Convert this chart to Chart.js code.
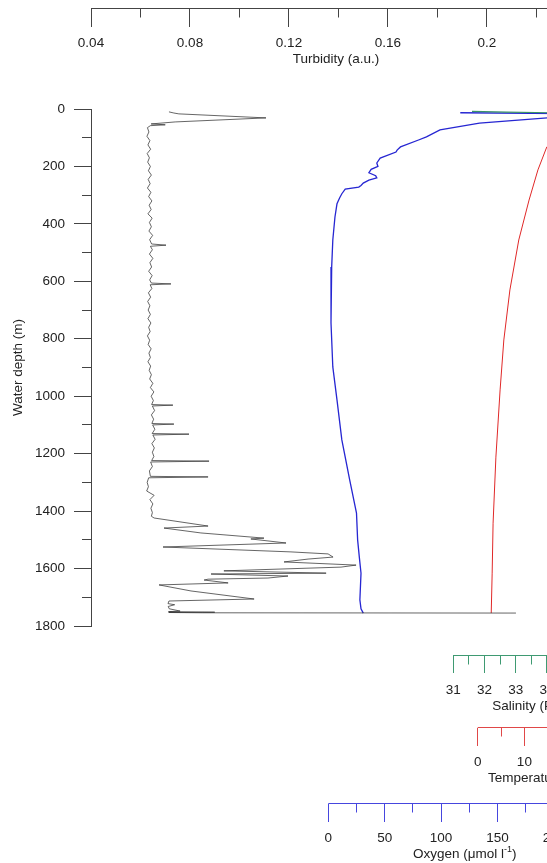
<!DOCTYPE html>
<html>
<head>
<meta charset="utf-8">
<title>Water column profile</title>
<script src="https://cdn.jsdelivr.net/npm/chart.js@4"></script>
<style>
  html, body { margin: 0; padding: 0; overflow: hidden; background: #fff; }
  #wrap { width: 547px; height: 863px; overflow: hidden; }
</style>
</head>
<body>
<div id="wrap"><canvas id="profile" width="640" height="863"></canvas></div>
<script>
// turbidity profile (a.u.) vs depth (m)
const turbDepth = [
  10, 14, 17, 31, 45, 52, 55, 58, 65,
  80, 95, 110, 125, 140, 155, 170, 185, 200, 215,
  230, 245, 260, 275, 290, 305, 320, 335, 350, 365,
  380, 395, 410, 425, 440, 455, 470, 474, 478, 490,
  505, 520, 535, 550, 565, 580, 595, 606, 609, 612,
  625, 640, 655, 670, 685, 700, 715, 730, 745, 760,
  775, 790, 805, 820, 835, 850, 865, 880, 895, 910,
  925, 940, 955, 970, 985, 1000, 1015, 1029, 1031, 1034,
  1050, 1065, 1080, 1095, 1097, 1100, 1115, 1130, 1132, 1135,
  1150, 1165, 1180, 1195, 1210, 1224, 1226, 1229, 1245, 1260,
  1279, 1281, 1284, 1300, 1315, 1330, 1345, 1360, 1375, 1390,
  1405, 1418, 1424, 1452, 1459, 1476, 1494, 1497, 1511, 1525,
  1542, 1549, 1560, 1567, 1577, 1588, 1595, 1608, 1616, 1619,
  1626, 1633, 1637, 1640, 1650, 1657, 1678, 1706, 1713, 1722,
  1726, 1732, 1740, 1748, 1750, 1752, 1753, 1754, 1755
];
const turbValue = [
  0.0715, 0.0735, 0.0755, 0.1107, 0.0740, 0.0643, 0.0700, 0.0640, 0.0628,
  0.0634, 0.0626, 0.0638, 0.0630, 0.0641, 0.0627, 0.0636, 0.0629, 0.0640, 0.0632,
  0.0644, 0.0631, 0.0639, 0.0628, 0.0642, 0.0633, 0.0646, 0.0635, 0.0643, 0.0630,
  0.0647, 0.0636, 0.0644, 0.0634, 0.0649, 0.0637, 0.0645, 0.0703, 0.0640, 0.0648,
  0.0636, 0.0650, 0.0638, 0.0645, 0.0633, 0.0647, 0.0637, 0.0644, 0.0723, 0.0639,
  0.0646, 0.0632, 0.0641, 0.0629, 0.0638, 0.0631, 0.0640, 0.0630, 0.0642, 0.0633,
  0.0639, 0.0628, 0.0637, 0.0631, 0.0643, 0.0634, 0.0640, 0.0630, 0.0641, 0.0635,
  0.0644, 0.0637, 0.0650, 0.0640, 0.0654, 0.0643, 0.0652, 0.0645, 0.0731, 0.0648,
  0.0657, 0.0644, 0.0653, 0.0646, 0.0735, 0.0649, 0.0658, 0.0647, 0.0796, 0.0650,
  0.0659, 0.0646, 0.0656, 0.0648, 0.0654, 0.0645, 0.0877, 0.0641, 0.0648, 0.0636,
  0.0640, 0.0873, 0.0633, 0.0627, 0.0632, 0.0625, 0.0655, 0.0638, 0.0650, 0.0642,
  0.0648, 0.0644, 0.0655, 0.0873, 0.0695, 0.0844, 0.1099, 0.1046, 0.1188, 0.0691,
  0.1208, 0.1358, 0.1378, 0.1277, 0.1180, 0.1471, 0.1410, 0.0937, 0.1350, 0.0885,
  0.1196, 0.1115, 0.0873, 0.0857, 0.0954, 0.0675, 0.0804, 0.1059, 0.0715, 0.0711,
  0.0738, 0.0712, 0.0716, 0.0760, 0.0713, 0.0900, 0.0714, 0.0850, 0.2117
];

// salinity (PSU)
const salDepth = [8, 11, 13, 20, 40, 70, 100, 200, 400, 700, 1000, 1400, 1755];
const salValue = [31.6, 32.7, 34.1, 34.2, 34.3, 34.6, 34.8, 34.95, 35.0, 34.98, 34.95, 34.92, 34.9];

// temperature (deg C)
const tempDepth = [8, 30, 60, 80, 100, 132, 212, 317, 456, 630, 804, 978, 1212, 1442, 1616, 1755];
const tempValue = [28.8, 28.5, 27.0, 23.0, 19.5, 14.8, 12.9, 11.0, 8.8, 6.9, 5.6, 4.8, 3.9, 3.3, 3.1, 2.9];

// oxygen (umol/l)
const oxyDepth = [
  13, 16, 25, 31, 49, 73, 97, 108, 132, 143,
  150, 171, 188, 200, 210, 222, 232, 240, 248, 258,
  266, 272, 279, 295, 310, 330, 376, 456, 550, 630,
  745, 898, 1013, 1152, 1292, 1407, 1500, 1560, 1616, 1709,
  1740, 1755
];
const oxyValue = [
  117, 212, 214, 194, 134, 99, 87, 80, 64, 61,
  60, 46, 43, 44, 38, 36, 42, 43, 36, 31,
  29, 27, 15, 12, 10, 7.7, 5.9, 4.0, 3.0, 2.4,
  2.4, 4.0, 7.7, 12, 19, 25, 26, 27.5, 29, 28,
  29, 31
];

const pairs = (xs, ds) => xs.map((v, i) => ({ x: v, y: ds[i] }));

const GREEN = '#3f9a72';
const RED = '#e04848';
const BLUE = '#4646de';
const INK = '#222';

// extra drawing for the offset axes: axis line, minor ticks, title
const axisExtras = {
  turb: { from: 0.04, step: 0.04, color: '#444', title: 'Turbidity (a.u.)', titleAt: 0.139, align: 'center' },
  sal:  { from: 31, step: 1, color: GREEN, title: 'Salinity (PSU)', titleAt: 32.25, align: 'left' },
  temp: { from: 0, step: 10, color: RED, title: 'Temperature (°C)', titleAt: 2.2, align: 'left' },
  oxy:  { from: 0, step: 50, color: BLUE, title: 'Oxygen (μmol l', sup: '-1', tail: ')', titleAt: 121, align: 'center' }
};

const alignPx = p => Math.round(p - 0.5) + 0.5;

const axisDecor = {
  id: 'axisDecor',
  afterDraw(chart) {
    const ctx = chart.ctx;
    const ys = chart.scales.y;
    ctx.save();
    ctx.lineWidth = 1;
    // minor ticks of depth axis
    ctx.strokeStyle = '#444';
    ctx.beginPath();
    for (let d = 100; d < 1800; d += 200) {
      const py = alignPx(ys.getPixelForValue(d));
      ctx.moveTo(ys.right - 9, py);
      ctx.lineTo(ys.right, py);
    }
    ctx.stroke();

    for (const id of Object.keys(axisExtras)) {
      const s = chart.scales[id];
      const a = axisExtras[id];
      const py = alignPx(ys.getPixelForValue(s.options.position.y));
      ctx.strokeStyle = a.color;
      ctx.beginPath();
      ctx.moveTo(s.getPixelForValue(a.from), py);
      ctx.lineTo(s.getPixelForValue(s.max), py);
      for (let v = a.from + a.step / 2; v < s.max; v += a.step) {
        const px = alignPx(s.getPixelForValue(v));
        ctx.moveTo(px, py);
        ctx.lineTo(px, py + 9);
      }
      ctx.stroke();

      // title
      const parts = [[a.title, 13.5, 0]];
      if (a.sup) parts.push([a.sup, 9, -5], [a.tail, 13.5, 0]);
      let total = 0;
      for (const p of parts) {
        ctx.font = p[1] + 'px "Liberation Sans", Arial, sans-serif';
        p.push(ctx.measureText(p[0]).width);
        total += p[3];
      }
      let tx = s.getPixelForValue(a.titleAt);
      if (a.align === 'center') tx -= total / 2;
      ctx.fillStyle = INK;
      ctx.textBaseline = 'middle';
      ctx.textAlign = 'left';
      for (const p of parts) {
        ctx.font = p[1] + 'px "Liberation Sans", Arial, sans-serif';
        ctx.fillText(p[0], tx, py + 51 + p[2]);
        tx += p[3];
      }
    }
    ctx.restore();
  }
};

function offsetAxis(depthPos, min, max, from, step, color, fmt) {
  return {
    type: 'linear',
    axis: 'x',
    position: { y: depthPos },
    min: min,
    max: max,
    border: { display: false },
    grid: {
      drawOnChartArea: false,
      tickLength: 18,
      tickColor: c => (c.tick && c.tick.value < from - 1e-9) ? 'rgba(0,0,0,0)' : color
    },
    ticks: {
      stepSize: step,
      includeBounds: false,
      padding: 9,
      maxRotation: 0,
      minRotation: 0,
      autoSkip: false,
      color: INK,
      callback: v => v < from - 1e-9 ? '' : fmt(v)
    }
  };
}

Chart.defaults.font.family = '"Liberation Sans", Arial, sans-serif';
Chart.defaults.font.size = 13.5;
Chart.defaults.color = INK;

new Chart(document.getElementById('profile'), {
  type: 'scatter',
  data: {
    datasets: [
      { label: 'Turbidity', data: pairs(turbValue, turbDepth), xAxisID: 'turb', yAxisID: 'y',
        showLine: true, borderColor: '#333', borderWidth: 0.75, pointRadius: 0 },
      { label: 'Salinity', data: pairs(salValue, salDepth), xAxisID: 'sal', yAxisID: 'y',
        showLine: true, borderColor: '#3a9466', borderWidth: 1.2, pointRadius: 0 },
      { label: 'Temperature', data: pairs(tempValue, tempDepth), xAxisID: 'temp', yAxisID: 'y',
        showLine: true, borderColor: '#e02828', borderWidth: 1, pointRadius: 0 },
      { label: 'Oxygen', data: pairs(oxyValue, oxyDepth), xAxisID: 'oxy', yAxisID: 'y',
        showLine: true, borderColor: '#2626d2', borderWidth: 1.3, pointRadius: 0 }
    ]
  },
  options: {
    responsive: false,
    maintainAspectRatio: false,
    animation: false,
    layout: { padding: { top: 109, left: 0, right: 55, bottom: 237 } },
    plugins: { legend: { display: false }, tooltip: { enabled: false } },
    scales: {
      y: {
        type: 'linear',
        position: 'left',
        reverse: true,
        min: 0,
        max: 1800,
        afterFit: s => { s.width = 91; },
        border: { color: '#444', width: 1 },
        grid: { drawOnChartArea: false, tickLength: 17, tickColor: '#444' },
        ticks: { stepSize: 200, padding: 9, color: INK, callback: v => String(v) },
        title: { display: true, text: 'Water depth (m)', color: INK, padding: { top: 10, bottom: 0 } }
      },
      turb: offsetAxis(-349.9, 0.04, 0.2396, 0.04, 0.04, '#444', v => String(+v.toFixed(2))),
      sal: offsetAxis(1902.7, 19.39, 35.22, 31, 1, GREEN, v => String(v)),
      temp: offsetAxis(2153.4, -82.8, 22.98, 0, 10, RED, v => String(v)),
      oxy: offsetAxis(2418.0, -210.37, 227.57, 0, 50, BLUE, v => String(v))
    }
  },
  plugins: [axisDecor]
});
</script>
</body>
</html>
